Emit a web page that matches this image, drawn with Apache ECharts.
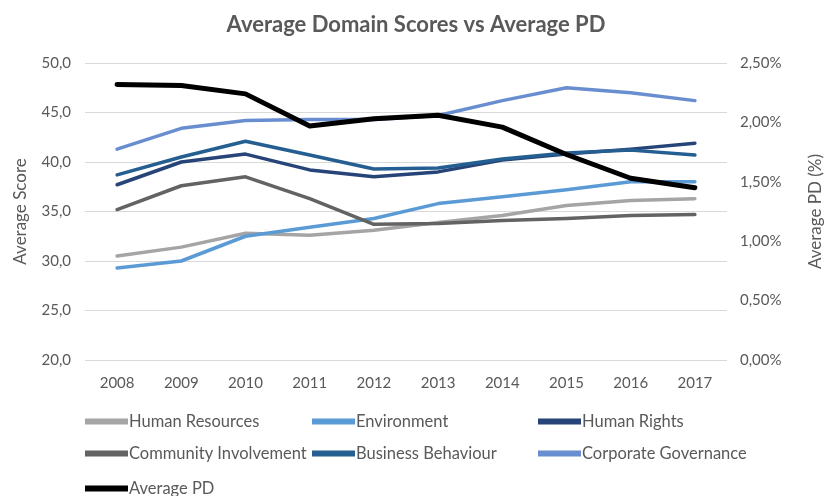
<!DOCTYPE html>
<html>
<head>
<meta charset="utf-8">
<script src="https://cdn.jsdelivr.net/npm/echarts@6/dist/echarts.min.js"></script>
<style>
html,body{margin:0;padding:0;background:#fff;}
#chart{width:832px;height:496px;}
</style>
</head>
<body>
<div id="chart"></div>
<script>
const years = ['2008','2009','2010','2011','2012','2013','2014','2015','2016','2017'];
const humanResources = [30.5, 31.4, 32.8, 32.6, 33.1, 33.9, 34.6, 35.6, 36.1, 36.3];
const environment = [29.3, 30.0, 32.5, 33.4, 34.3, 35.8, 36.5, 37.2, 38.0, 38.0];
const humanRights = [37.7, 40.0, 40.8, 39.2, 38.5, 39.0, 40.2, 40.8, 41.3, 41.9];
const communityInvolvement = [35.2, 37.6, 38.5, 36.3, 33.7, 33.8, 34.1, 34.3, 34.6, 34.7];
const businessBehaviour = [38.7, 40.5, 42.1, 40.7, 39.3, 39.4, 40.3, 40.9, 41.2, 40.7];
const corporateGovernance = [41.3, 43.4, 44.2, 44.3, 44.3, 44.7, 46.2, 47.5, 47.0, 46.2];
const averagePD = [2.32, 2.31, 2.24, 1.97, 2.03, 2.06, 1.96, 1.73, 1.53, 1.45];
const leftTicks = [20, 50, 5];
const rightTicks = [0, 2.5, 0.5];

const FONT = 'Lato';
const GREY = '#595959';

const seriesDefs = [
  {name:'Human Resources', data:humanResources, color:'#A5A5A5', axis:0, width:3.5},
  {name:'Environment', data:environment, color:'#5B9BD5', axis:0, width:3.5},
  {name:'Human Rights', data:humanRights, color:'#264478', axis:0, width:3.5},
  {name:'Community Involvement', data:communityInvolvement, color:'#636363', axis:0, width:3.5},
  {name:'Business Behaviour', data:businessBehaviour, color:'#255E91', axis:0, width:3.5},
  {name:'Corporate Governance', data:corporateGovernance, color:'#698ED0', axis:0, width:3.5},
  {name:'Average PD', data:averagePD, color:'#000000', axis:1, width:5}
];

const legendPos = [
  [85,413],[312,413],[538,413],
  [85,445],[312,445],[538,445],
  [85,480]
];

const chart = echarts.init(document.getElementById('chart'));
chart.setOption({
  animation:false,
  title:{
    text:'Average Domain Scores vs Average PD',
    left:'center', top:9,
    textStyle:{fontFamily:FONT, fontSize:22, fontWeight:'bold', color:GREY}
  },
  legend: seriesDefs.map((s,i)=>({
    data:[s.name],
    left:legendPos[i][0], top:legendPos[i][1],
    itemWidth:43, itemHeight:6, icon:'rect',
    padding:0,
    textStyle:{fontFamily:FONT, fontSize:16.5, color:GREY, padding:[0,0,0,-4]}
  })),
  grid:{left:85, right:91, top:63, bottom:136},
  xAxis:{
    type:'category', data:years, boundaryGap:true,
    axisLine:{show:false}, axisTick:{show:false},
    axisLabel:{fontFamily:FONT, fontSize:15, color:GREY, margin:16}
  },
  yAxis:[
    {
      type:'value', min:leftTicks[0], max:leftTicks[1], interval:leftTicks[2],
      name:'Average Score', nameLocation:'middle', nameGap:56, nameRotate:90,
      nameTextStyle:{fontFamily:FONT, fontSize:17, color:GREY},
      axisLabel:{fontFamily:FONT, fontSize:15, color:GREY, margin:14,
        formatter:v=>v.toFixed(1).replace('.',',')},
      axisLine:{show:false}, axisTick:{show:false},
      splitLine:{lineStyle:{color:'#D9D9D9', width:1}}
    },
    {
      type:'value', min:rightTicks[0], max:rightTicks[1], interval:rightTicks[2],
      name:'Average PD (%)', nameLocation:'middle', nameGap:80, nameRotate:90,
      nameTextStyle:{fontFamily:FONT, fontSize:17, color:GREY},
      axisLabel:{fontFamily:FONT, fontSize:15, color:GREY, margin:13,
        formatter:v=>v.toFixed(2).replace('.',',')+'%'},
      axisLine:{show:false}, axisTick:{show:false},
      splitLine:{show:false}
    }
  ],
  series: seriesDefs.map(s=>({
    name:s.name, type:'line', data:s.data, yAxisIndex:s.axis,
    showSymbol:false, symbol:'none',
    lineStyle:{color:s.color, width:s.width, cap:'round', join:'round'},
    itemStyle:{color:s.color},
    emphasis:{disabled:true}
  }))
});
</script>
</body>
</html>
